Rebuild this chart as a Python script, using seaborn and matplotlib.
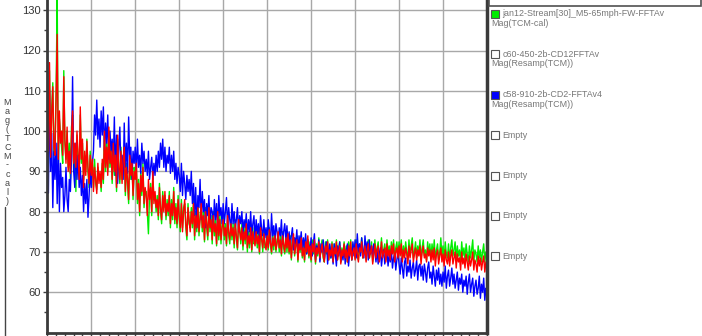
import numpy as np
import pandas as pd
import matplotlib
matplotlib.use("Agg")
import matplotlib.pyplot as plt
import seaborn as sns
from matplotlib.patches import Rectangle
from matplotlib.lines import Line2D

# ---------------- data ----------------
x_step = 0.025
red_vals = [
    112, 95, 117, 93.5, 104, 111, 96, 94, 108, 124,
    93, 105, 97, 100, 94, 113.5, 98, 92, 101, 90,
    95, 89.5, 99, 105, 92, 97, 91, 100, 94, 88,
    106, 93, 98, 86, 95, 89, 97.5, 91, 87, 94,
    89, 93, 85, 91, 88, 84.5, 92, 87, 90, 86,
    93, 88, 100, 91, 96, 89, 101, 92, 95, 88,
    97, 90, 94, 86, 99, 91, 88, 95, 87, 93,
    96, 85, 91, 88, 83, 94, 89, 92, 84, 90,
    88, 92, 83, 87, 80, 89, 85, 91, 82, 86,
    84, 79, 88, 83, 86, 80, 90, 82, 85, 81,
    83, 79, 86, 81, 78, 84, 80, 85, 79, 82,
    80, 84, 77, 82, 79, 85, 78, 81, 77, 83,
    79, 76, 82, 75, 80, 83, 77, 74, 81, 78,
    75, 80, 77, 82, 74, 79, 76, 81, 75, 78,
    82, 76, 79, 73, 80, 77, 74, 81, 76, 78,
    73, 79, 75, 77, 72, 80, 74, 78, 73, 76,
    78, 74, 76, 72, 79, 75, 73, 77, 74, 76,
    72, 77, 74, 71, 78, 75, 73, 76, 71.5, 75,
    73, 77, 71, 74, 72, 76, 70.5, 75, 73, 71.5,
    75, 72, 74, 70, 76, 73, 71, 74.5, 72, 70.5,
    74, 71, 75.5, 72.5, 70, 73.5, 71.5, 74, 70.5, 72,
    75, 71, 73, 69.5, 74, 72, 70, 73.5, 71, 74.5,
    70, 73, 68.5, 72, 74.5, 69.5, 71.5, 73, 68, 72,
    70.5, 73.5, 69, 71, 68, 72.5, 70, 74, 69, 71.5,
    68, 72, 70, 73, 67.5, 71, 69.5, 72.5, 68.5, 70.5,
    72, 69, 67.5, 71.5, 70, 72.5, 68, 70.5, 69, 72,
    67.5, 71, 69.5, 72.5, 68, 70, 71.5, 67, 70.5, 69,
    72, 68.5, 70.5, 67.5, 71.5, 69, 72.5, 68, 70, 71,
    68, 72, 69.5, 67.5, 71, 70, 72.5, 68.5, 69.5, 71.5,
    67.5, 70.5, 72, 68.5, 70, 71.5, 67, 69.5, 72, 68.5,
    70.5, 71.5, 67.5, 69, 72.5, 68.5, 70, 71, 67.5, 72,
    69, 70.5, 68, 71.5, 69.5, 72, 67.5, 70, 71, 68.5,
    71.5, 69, 72, 67.5, 70.5, 68.5, 71, 69.5, 67, 71.5,
    68.5, 70.5, 72, 67.5, 69.5, 71, 68, 70.5, 69, 71.5,
    67, 70, 71.5, 68.5, 69.5, 67.5, 71, 69, 70.5, 67.5,
    70.5, 68, 71, 66.5, 69.5, 70.5, 67, 69, 71, 67.5,
    69.5, 66.5, 70.5, 68, 67, 70, 66.5, 69, 70.5, 67,
    68.5, 70, 66, 69.5, 67.5, 68.5, 65.5, 70, 67, 68.5,
    66, 69.5, 67.5, 65.5, 69, 66.5, 68, 70, 65.5, 68,
    67, 65, 69, 66.5, 68.5, 65.5, 67.5, 69, 65, 67.5,
    66.5,
]
green_vals = [
    108, 96, 115, 92, 106, 112, 94, 97, 110, 133,
    91, 103, 99, 96, 92, 115, 97, 93, 100, 91,
    97, 88, 101, 104, 90, 96, 85, 99, 93, 89,
    104, 92, 97, 88, 94, 90, 98, 90, 86, 95,
    90, 92, 86, 93, 87, 85.5, 91, 88, 89, 85,
    92, 87, 99, 90, 97, 90, 100, 91, 96, 87,
    96, 89, 95, 85, 98, 90, 87, 96, 88, 92,
    95, 84, 92, 87, 82, 93, 88, 93, 83, 91,
    89, 91, 82, 88, 79, 90, 84, 92, 81, 85,
    85, 80, 74.5, 84, 87, 79, 89, 83, 84, 80,
    84, 78, 87, 80, 77, 85, 81, 84, 78, 83,
    79, 85, 76, 83, 78, 86, 77, 82, 76, 84,
    78, 75, 83, 76, 81, 82, 76, 73, 82, 77,
    76, 81, 76, 83, 73, 80, 75, 82, 74, 79,
    81, 75, 80, 72.5, 81, 76, 73, 82, 75, 79,
    72, 80, 74, 78, 71.5, 79, 73, 79, 72, 77,
    79, 73, 77, 71.5, 78, 74, 72, 78, 73, 77,
    71, 78, 73, 70.5, 77, 76, 72, 77, 70.5, 76,
    72, 78, 70, 75, 71, 77, 70, 76, 72, 72.5,
    76, 71, 75, 69.5, 75, 74, 70, 75.5, 71, 71.5,
    75, 70.5, 76, 71.5, 69.5, 74.5, 70.5, 75, 70, 73,
    74, 70, 74, 69, 75, 71, 69.5, 74.5, 70, 73.5,
    69.5, 74, 68, 73, 73.5, 69, 72.5, 74, 67.5, 73,
    70, 74, 68.5, 72, 67.5, 73.5, 69.5, 73, 68.5, 72.5,
    67.5, 73, 69.5, 72.5, 67, 72, 69, 73.5, 68, 71.5,
    73, 68.5, 67.5, 72.5, 69.5, 73, 68, 71.5, 68.5, 72.5,
    67.5, 72, 69, 73, 68, 71, 72.5, 67.5, 71, 69,
    72.5, 68.5, 71.5, 67.5, 72.5, 69.5, 73, 68, 70.5, 72,
    68.5, 73, 69, 68, 72, 70.5, 73.5, 68.5, 70, 72.5,
    68, 71.5, 73, 68.5, 70.5, 72.5, 67.5, 70, 73, 69,
    71, 72.5, 68, 69.5, 73.5, 69, 70.5, 72, 68, 73,
    69.5, 71.5, 68.5, 72.5, 70, 73, 68, 71, 72.5, 69,
    72.5, 69.5, 73, 68, 71.5, 69, 72.5, 70, 68, 73,
    69, 71.5, 73.5, 68.5, 70, 72.5, 68.5, 71.5, 69.5, 73,
    68, 71, 73, 69, 70.5, 68, 72.5, 69.5, 72, 68.5,
    72, 69, 73, 68, 70.5, 72, 68, 70, 73.5, 69,
    71.5, 68, 72.5, 69.5, 68.5, 72, 68, 71, 73, 69,
    70.5, 72.5, 68, 71.5, 69, 70.5, 67.5, 72.5, 69, 71,
    68, 72, 69.5, 67.5, 71.5, 68.5, 70.5, 73, 67.5, 70.5,
    69.5, 67.5, 71.5, 68.5, 70.5, 67.5, 70, 72, 67.5, 70,
    69,
]
blue_vals = [
    123, 84.6, 110, 90, 99.5, 81, 95, 88, 97, 82,
    97, 80, 92, 86, 88.5, 80, 84, 91, 83, 80,
    88, 85, 93, 113.5, 90, 86, 97, 88, 94, 86,
    91, 84, 89, 80, 87, 82, 88, 78.6, 84, 90,
    86, 92, 95, 104, 99, 107.7, 98, 103, 96, 105,
    99, 106, 95, 102, 97, 104, 93, 100, 95, 98,
    92, 103.5, 89, 99, 87, 96, 101, 90, 94, 88,
    102, 91, 97, 89.5, 103.5, 93, 96, 88, 95, 92,
    96, 90, 98, 91, 94, 89.5, 97, 92, 95, 90,
    93, 89, 95, 88, 91, 93.5, 88, 92, 89, 94,
    90, 95, 91, 97, 93, 98, 91, 96, 90, 94,
    92, 96, 89.5, 94, 90, 95, 88, 92, 87, 91,
    89, 85, 92, 84, 90, 87, 83, 89, 85, 88,
    84, 90, 82, 87, 79, 86, 76, 84, 81, 88,
    78, 85, 80, 83, 76, 82, 79, 84, 77, 81,
    80, 76, 83, 78, 82, 75.5, 84, 79, 81, 77,
    82, 77, 80, 83.5, 76, 81, 78, 75.5, 82, 77,
    80, 76, 78, 81, 75, 79, 77, 80, 74.5, 78,
    76, 79.5, 73.5, 78, 75, 80, 74, 77, 79, 73,
    78, 74.5, 77, 73, 79, 75.5, 74, 78, 73.5, 76,
    73, 78, 75, 72, 79.5, 74, 76.5, 72.5, 77, 75,
    72.5, 76, 74, 78, 72, 75, 77, 73, 76.5, 72,
    75, 71, 74, 76, 70.5, 73.5, 72, 75.5, 70, 74,
    72, 75, 70.5, 73.5, 71, 74.5, 69.5, 73, 71.5, 70,
    73.5, 69, 72, 74.5, 68, 71.5, 70, 73, 67.5, 72,
    70, 73, 68, 71, 72.5, 67, 70.5, 72, 68.5, 71,
    67, 72, 69.5, 66.5, 71.5, 69, 72.5, 67.5, 70, 68,
    71.5, 67, 70, 72, 66.5, 69.5, 71, 68, 72.5, 69,
    73, 68.5, 74.5, 70, 72, 69, 73.5, 70.5, 68.5, 74,
    70, 72.5, 68, 73, 69.5, 71.5, 68.5, 72, 70, 67.5,
    70.5, 67, 69.5, 71, 66.5, 69, 70.5, 67, 68.5, 70,
    66.5, 69.5, 67.5, 70.5, 66, 68.5, 69.5, 65.5, 68, 70,
    67, 64.5, 68.5, 66, 63.5, 67.5, 68.5, 64, 66.5, 65,
    68, 63.5, 66, 67.5, 64, 65.5, 68, 63, 66.5, 67,
    64, 66.5, 63, 67, 65, 62.5, 66, 67.5, 63.5, 65,
    62, 66.5, 64, 61.5, 65.5, 63, 66, 62, 64.5, 61.5,
    65, 62.5, 66.5, 61, 64, 65.5, 61.5, 63.5, 66, 62,
    64.5, 61, 63, 65, 60.5, 63.5, 62, 64.5, 60, 63,
    61.5, 64, 59.5, 62.5, 64.5, 60, 62, 63.5, 59, 61.5,
    63, 59.5, 61, 64, 58.5, 62, 60, 63.5, 58, 61,
    60.5,
]
series_names = ["green", "blue", "red"]
series_colors = {"green": "#00ee00", "blue": "#0000ff", "red": "#ff0000"}

y_ticks = [60, 70, 80, 90, 100, 110, 120, 130]
y_label = "Mag(TCM-cal)"

legend_lines1 = ["jan12-Stream[30]_M5-65mph-FW-FFTAv", "c60-450-2b-CD12FFTAv",
                 "c58-910-2b-CD2-FFTAv4", "Empty", "Empty", "Empty", "Empty"]
legend_lines2 = ["Mag(TCM-cal)", "Mag(Resamp(TCM))", "Mag(Resamp(TCM))", "", "", "", ""]
legend_fill = ["#00ee00", "white", "#0000ff", "white", "white", "white", "white"]

# ---------------- build frame ----------------
n = len(red_vals)
xs = np.arange(n) * x_step
df = pd.concat([
    pd.DataFrame({"x": xs, "v": green_vals, "s": "green"}),
    pd.DataFrame({"x": xs, "v": blue_vals, "s": "blue"}),
    pd.DataFrame({"x": xs, "v": red_vals, "s": "red"}),
], ignore_index=True)

sns.set_style("white")
plt.rcParams["font.family"] = ["Liberation Sans", "DejaVu Sans"]

W, H = 702, 336
fig = plt.figure(figsize=(W / 100, H / 100), dpi=100)
fig.patch.set_facecolor("white")

def fx(px):
    return px / W

def fy(py):
    return 1 - py / H

ax_left, ax_right, ax_bottom = 47.3, 487.0, 332.5
y_lo, y_hi = 50.0, 133.5
ppu = 282 / 70.0
ax_h_px = (y_hi - y_lo) * ppu
ax = fig.add_axes([fx(ax_left), fy(ax_bottom), (ax_right - ax_left) / W, ax_h_px / H])

sns.lineplot(data=df, x="x", y="v", hue="s", hue_order=series_names, palette=series_colors,
             estimator=None, sort=False, legend=False, linewidth=1.0, ax=ax)

ax.set_xlim(0, 10)
ax.set_ylim(y_lo, y_hi)
ax.set_xticks(range(0, 11))
ax.set_xticks(np.arange(0, 10.01, 0.2), minor=True)
ax.set_xticklabels([])
ax.set_yticks(y_ticks)
ax.set_yticklabels([str(t) for t in y_ticks])
ax.set_yticks(np.arange(55, 131, 5), minor=True)
ax.set_xlabel("")
ax.set_ylabel("")
ax.grid(True, which="major", color="#a8a8a8", linewidth=1.0)
ax.set_axisbelow(True)
ax.tick_params(axis="y", which="major", direction="out", length=3, width=1, colors="#404040",
               labelsize=8, labelcolor="#333333", pad=1.5, left=True)
ax.tick_params(axis="y", which="minor", direction="out", length=2, width=1, colors="#404040", left=True)
ax.tick_params(axis="x", which="both", direction="out", length=4, width=1, colors="#404040", bottom=True)
for side in ["left", "bottom"]:
    ax.spines[side].set_color("#3a3a3a")
    ax.spines[side].set_linewidth(2.0)
ax.spines["right"].set_color("#3a3a3a")
ax.spines["right"].set_linewidth(2.5)
ax.spines["top"].set_visible(False)

# stacked y label
fig.text(fx(7.5), fy(151.5), "\n".join(y_label), ha="center", va="center",
         fontsize=6.5, color="#444444", linespacing=1.0)
fig.add_artist(Line2D([fx(5), fx(5)], [fy(207), fy(336)], color="#444444", linewidth=1.0))

# legend panel
fig.add_artist(Rectangle((fx(489.3), fy(6)), fx(700.5) - fx(489.3), fy(-10) - fy(6),
                         facecolor="white", edgecolor="#505050", linewidth=1.2))
for i in range(len(legend_lines1)):
    cy = 14 + i * 40.4
    fig.add_artist(Rectangle((fx(491), fy(cy + 4)), 8 / W, 8 / H, facecolor=legend_fill[i],
                             edgecolor="#555555", linewidth=0.8))
    fig.text(fx(502.5), fy(cy), legend_lines1[i], ha="left", va="center",
             fontsize=6.4, color="#777777")
    if legend_lines2[i]:
        fig.text(fx(491), fy(cy + 9.5), legend_lines2[i], ha="left", va="center",
                 fontsize=6.4, color="#777777")

fig.savefig("out.png", dpi=100, facecolor="white")
